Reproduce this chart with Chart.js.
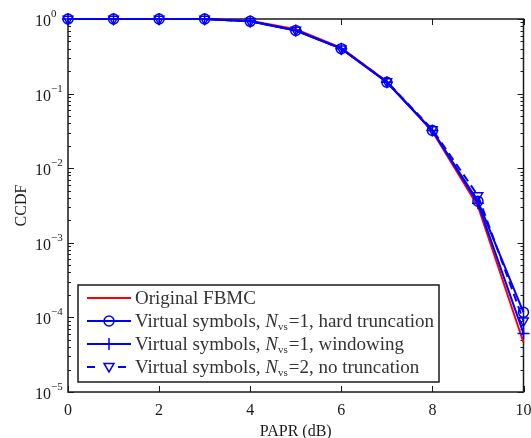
<!DOCTYPE html>
<html>
<head>
<meta charset="utf-8">
<script src="https://cdn.jsdelivr.net/npm/chart.js@4.4.1/dist/chart.umd.min.js"></script>
<style>
  html, body { margin: 0; padding: 0; background: #fff; }
  #wrap { width: 531px; height: 438px; }
</style>
</head>
<body>
<div id="wrap"><canvas id="ccdf"></canvas></div>
<script>
// PAPR (dB) on x, CCDF on y (log)
const papr = [0, 1, 2, 3, 4, 5, 6, 7, 8, 9, 10];
const originalFbmc = [1, 1, 1, 1, 0.95, 0.73, 0.41, 0.145, 0.031, 0.0031, 4.6e-5];
const hardTrunc    = [1, 1, 1, 1, 0.93, 0.70, 0.40, 0.142, 0.032, 0.0036, 1.17e-4];
const windowing    = [1, 1, 1, 1, 0.93, 0.70, 0.40, 0.142, 0.032, 0.0034, 6.1e-5];
const noTrunc      = [1, 1, 1, 1, 0.93, 0.71, 0.40, 0.145, 0.033, 0.0043, 9.0e-5];
const xTicks = [0, 2, 4, 6, 8, 10];
const yExponents = [0, -1, -2, -3, -4, -5];
const legendRows = [
  { pre: 'Original FBMC', nvs: null, post: '' },
  { pre: 'Virtual symbols, ', nvs: '1', post: ', hard truncation' },
  { pre: 'Virtual symbols, ', nvs: '1', post: ', windowing' },
  { pre: 'Virtual symbols, ', nvs: '2', post: ', no truncation' }
];

const pts = arr => papr.map((x, i) => ({ x: x, y: arr[i] }));
const SERIF = '"Liberation Serif", "DejaVu Serif", serif';
const INK = '#1a1a1a';

const datasets = [
  { label: 'Original FBMC', data: pts(originalFbmc), borderColor: '#ff0000', borderWidth: 2,
    pointRadius: 0, order: 5 },
  { label: 'hard truncation', data: pts(hardTrunc), borderColor: '#0000ff', borderWidth: 2,
    pointStyle: 'circle', pointRadius: 5, pointBorderWidth: 1.5, pointBackgroundColor: 'rgba(0,0,0,0)', order: 2 },
  { label: 'windowing', data: pts(windowing), borderColor: '#0000ff', borderWidth: 2,
    pointStyle: 'cross', pointRadius: 6, pointBorderWidth: 1.5, order: 3 },
  { label: 'no truncation', data: pts(noTrunc), borderColor: '#0000ff', borderWidth: 2, borderDash: [8, 5],
    pointStyle: 'triangle', pointRotation: 180, pointRadius: 5.5, pointBorderWidth: 1.5,
    pointBackgroundColor: 'rgba(0,0,0,0)', order: 1 }
];
datasets.forEach(d => { d.clip = false; d.tension = 0; d.fill = false; d.pointBorderColor = d.borderColor; });

function drawMarker(ctx, style, x, y) {
  ctx.save();
  ctx.strokeStyle = '#0000ff';
  ctx.lineWidth = 1.5;
  ctx.setLineDash([]);
  ctx.beginPath();
  if (style === 'circle') {
    ctx.arc(x, y, 5, 0, Math.PI * 2);
  } else if (style === 'cross') {
    ctx.moveTo(x - 6, y); ctx.lineTo(x + 6, y);
    ctx.moveTo(x, y - 6); ctx.lineTo(x, y + 6);
  } else if (style === 'triangle') {
    ctx.moveTo(x - 5, y - 3.5); ctx.lineTo(x + 5, y - 3.5); ctx.lineTo(x, y + 5); ctx.closePath();
  }
  ctx.stroke();
  ctx.restore();
}

const axesPlugin = {
  id: 'axesPlugin',
  beforeDatasetsDraw(chart) {
    const ctx = chart.ctx;
    const a = chart.chartArea;
    const xs = chart.scales.x, ys = chart.scales.y;
    ctx.save();
    ctx.strokeStyle = INK;
    ctx.lineWidth = 1.5;
    ctx.strokeRect(a.left, a.top, a.right - a.left, a.bottom - a.top);
    ctx.lineWidth = 1;
    ctx.beginPath();
    // x ticks, bottom and top, pointing in
    xTicks.forEach(v => {
      const px = Math.round(xs.getPixelForValue(v)) + 0.5;
      ctx.moveTo(px, a.bottom); ctx.lineTo(px, a.bottom - 6);
      ctx.moveTo(px, a.top); ctx.lineTo(px, a.top + 6);
    });
    // y ticks (major + minor), left and right
    for (let e = -5; e <= 0; e++) {
      for (let m = 1; m <= 9; m++) {
        const v = m * Math.pow(10, e);
        if (v > 1) break;
        const py = Math.round(ys.getPixelForValue(v)) + 0.5;
        const len = m === 1 ? 6 : 3;
        ctx.moveTo(a.left, py); ctx.lineTo(a.left + len, py);
        ctx.moveTo(a.right, py); ctx.lineTo(a.right - len, py);
      }
    }
    ctx.stroke();

    // tick labels
    ctx.fillStyle = INK;
    ctx.font = '16px ' + SERIF;
    ctx.textAlign = 'center';
    ctx.textBaseline = 'alphabetic';
    xTicks.forEach(v => ctx.fillText(String(v), xs.getPixelForValue(v), a.bottom + 23));
    yExponents.forEach(e => {
      const py = ys.getPixelForValue(Math.pow(10, e));
      ctx.font = '16px ' + SERIF;
      ctx.textAlign = 'left';
      ctx.fillText('10', 35, py + 7);
      ctx.font = '11px ' + SERIF;
      ctx.fillText(e === 0 ? '0' : '\u2212' + Math.abs(e), 51, py - 2);
    });

    // axis titles
    ctx.font = '16px ' + SERIF;
    ctx.textAlign = 'center';
    ctx.fillText('PAPR (dB)', (a.left + a.right) / 2, 436);
    ctx.save();
    ctx.translate(26, (a.top + a.bottom) / 2);
    ctx.rotate(-Math.PI / 2);
    ctx.fillText('CCDF', 0, 0);
    ctx.restore();
    ctx.restore();
  },
  afterDatasetsDraw(chart) {
    const ctx = chart.ctx;
    const bx = 78, by = 285, bw = 361, bh = 97;
    ctx.save();
    ctx.fillStyle = '#fff';
    ctx.fillRect(bx, by, bw, bh);
    ctx.strokeStyle = INK;
    ctx.lineWidth = 1.5;
    ctx.strokeRect(bx, by, bw, bh);
    const styles = [null, 'circle', 'cross', 'triangle'];
    legendRows.forEach((row, i) => {
      const ds = chart.data.datasets[i];
      const cy = by + 13 + i * 23;
      ctx.strokeStyle = ds.borderColor;
      ctx.lineWidth = 2;
      ctx.setLineDash(ds.borderDash || []);
      ctx.beginPath();
      if (ds.borderDash) {
        ctx.moveTo(87, cy); ctx.lineTo(100, cy);
        ctx.moveTo(118, cy); ctx.lineTo(131, cy);
      } else {
        ctx.moveTo(87, cy); ctx.lineTo(131, cy);
      }
      ctx.stroke();
      ctx.setLineDash([]);
      if (styles[i]) drawMarker(ctx, styles[i], 109, cy);

      ctx.fillStyle = '#333';
      ctx.textAlign = 'left';
      ctx.textBaseline = 'alphabetic';
      let x = 135;
      const base = cy + 6;
      ctx.font = '19px ' + SERIF;
      ctx.fillText(row.pre, x, base);
      x += ctx.measureText(row.pre).width;
      if (row.nvs) {
        ctx.font = 'italic 19px ' + SERIF;
        ctx.fillText('N', x, base);
        x += ctx.measureText('N').width;
        ctx.font = '11px ' + SERIF;
        ctx.fillText('vs', x, base + 3);
        x += ctx.measureText('vs').width + 1;
        ctx.font = '19px ' + SERIF;
        const t = '=' + row.nvs + row.post;
        ctx.fillText(t, x, base);
      }
    });
    ctx.restore();
  }
};

new Chart(document.getElementById('ccdf'), {
  type: 'line',
  data: { datasets: datasets },
  options: {
    responsive: true,
    maintainAspectRatio: false,
    animation: false,
    layout: { padding: { left: 68, right: 7, top: 19, bottom: 46 } },
    scales: {
      x: { type: 'linear', min: 0, max: 10, display: false },
      y: { type: 'logarithmic', min: 1e-5, max: 1, display: false }
    },
    plugins: {
      legend: { display: false },
      tooltip: { enabled: false }
    }
  },
  plugins: [axesPlugin]
});
</script>
</body>
</html>
